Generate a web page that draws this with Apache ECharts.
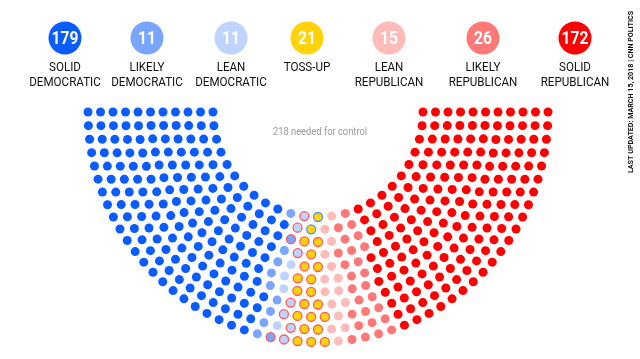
<!DOCTYPE html>
<html>
<head>
<meta charset="utf-8">
<script src="https://cdn.jsdelivr.net/npm/echarts@6/dist/echarts.min.js"></script>
<style>
html,body{margin:0;padding:0;background:#fff;}
#c{width:640px;height:359px;}
</style>
</head>
<body>
<div id="c"></div>
<script>
// ---- data ----
const categories = ['SOLID\nDEMOCRATIC','LIKELY\nDEMOCRATIC','LEAN\nDEMOCRATIC','TOSS-UP','LEAN\nREPUBLICAN','LIKELY\nREPUBLICAN','SOLID\nREPUBLICAN'];
const seatCounts = [179, 11, 11, 21, 15, 26, 172];
// seats currently held by the other party (drawn with an outline)
const heldByRepublicans = [0, 2, 7, 19, 0, 0, 0];
const heldByDemocrats   = [0, 0, 0, 2, 0, 0, 0];
const majorityText = '218 needed for control';
const creditText = 'LAST UPDATED: MARCH 15, 2018 | CNN POLITICS';

// ---- styles / layout ----
const colors = ['#0b5cff', '#79a5ff', '#bed4ff', '#ffd20a', '#ffbaba', '#ff7878', '#ff0000'];
const repOutline = '#ff5a5a';
const demOutline = '#4d94ff';
const legendX = [65, 147, 231, 307, 389, 483, 575];
const ringCount = 11;
const innerR = 105, outerR = 230;
const FONT = "Roboto, 'Liberation Sans', sans-serif";

// ---- seat layout (parliament arrangement) ----
const total = seatCounts.reduce((a, b) => a + b, 0);
const radii = [];
for (let i = 0; i < ringCount; i++) radii.push(innerR + i * (outerR - innerR) / (ringCount - 1));
const sumR = radii.reduce((a, b) => a + b, 0);
const raw = radii.map(r => total * r / sumR);
const perRing = raw.map(Math.floor);
let rest = total - perRing.reduce((a, b) => a + b, 0);
raw.map((v, i) => [v - Math.floor(v), i]).sort((a, b) => b[0] - a[0]).slice(0, rest).forEach(p => perRing[p[1]]++);
const seatsAll = [];
perRing.forEach((n, ring) => {
  for (let j = 0; j < n; j++) seatsAll.push({ ring: ring, angle: 180 * j / (n - 1) });
});
seatsAll.sort((a, b) => a.angle - b.angle || b.ring - a.ring);

const series = [];
let idx = 0;
seatCounts.forEach((cnt, c) => {
  const group = seatsAll.slice(idx, idx + cnt);
  idx += cnt;
  // seats held by Democrats: innermost seats of the group
  const byRing = group.map((s, k) => k).sort((a, b) => group[a].ring - group[b].ring || group[a].angle - group[b].angle);
  const demHeld = new Set(byRing.slice(0, heldByDemocrats[c]));
  const remaining = group.map((s, k) => k).filter(k => !demHeld.has(k));
  const repHeld = new Set(remaining.slice(remaining.length - heldByRepublicans[c]));
  const data = group.map((s, k) => {
    const item = { value: [s.ring, s.angle] };
    if (demHeld.has(k)) item.itemStyle = { borderColor: demOutline, borderWidth: 1.3 };
    else if (repHeld.has(k)) item.itemStyle = { borderColor: repOutline, borderWidth: 1.3 };
    return item;
  });
  series.push({
    type: 'scatter',
    coordinateSystem: 'polar',
    name: categories[c],
    symbol: 'circle',
    symbolSize: 9,
    itemStyle: { color: colors[c], opacity: 1 },
    data: data,
    silent: true,
    animation: false
  });
});

// ---- legend graphics ----
const graphics = [];
seatCounts.forEach((cnt, c) => {
  graphics.push({
    type: 'circle', shape: { cx: legendX[c], cy: 38, r: 16.5 },
    style: { fill: colors[c] }, silent: true
  });
  graphics.push({
    type: 'text', x: legendX[c], y: 39, scaleX: 0.82,
    style: { text: String(cnt), fill: '#fff', font: 'bold 19px ' + FONT, align: 'center', verticalAlign: 'middle' }
  });
  graphics.push({
    type: 'text', x: legendX[c], y: 60, scaleX: 0.86,
    style: { text: categories[c], fill: '#111', font: '13.5px ' + FONT, align: 'center', verticalAlign: 'top', lineHeight: 15 }
  });
});
graphics.push({
  type: 'text', x: 320, y: 132, scaleX: 0.85,
  style: { text: majorityText, fill: '#9a9a9a', font: '11px ' + FONT, align: 'center', verticalAlign: 'middle' }
});
graphics.push({
  type: 'text', x: 631, y: 92, rotation: Math.PI / 2, scaleX: 0.95,
  style: { text: creditText, fill: '#111', font: 'bold 7.5px ' + FONT, align: 'center', verticalAlign: 'middle' }
});

const chart = echarts.init(document.getElementById('c'), null, { renderer: 'canvas' });
chart.setOption({
  animation: false,
  backgroundColor: '#fff',
  polar: { center: [318, 112], radius: [innerR, outerR] },
  angleAxis: { type: 'value', min: 0, max: 360, startAngle: 180, clockwise: false, show: false },
  radiusAxis: { type: 'value', min: 0, max: ringCount - 1, show: false },
  series: series,
  graphic: graphics
});
</script>
</body>
</html>
